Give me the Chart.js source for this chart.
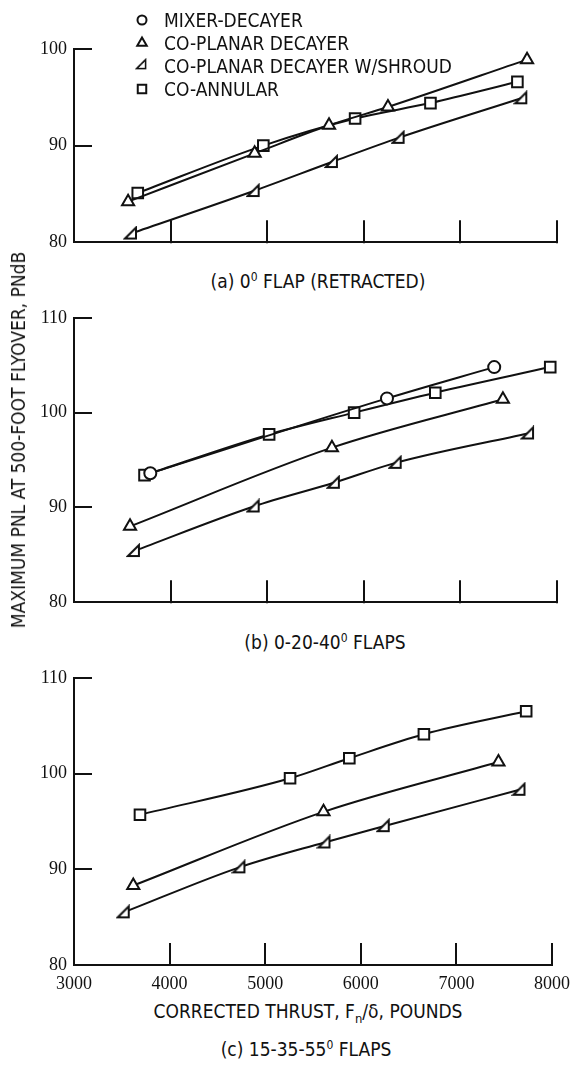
<!DOCTYPE html>
<html>
<head>
<meta charset="utf-8">
<script src="https://cdn.jsdelivr.net/npm/chart.js@4.4.0/dist/chart.umd.min.js"></script>
<style>
  html,body{margin:0;padding:0;background:#fff;}
  #page{position:relative;width:578px;height:1067px;overflow:hidden;background:#fff;}
  canvas{position:absolute;left:0;}
  .t{position:absolute;font-family:"DejaVu Sans Condensed","DejaVu Sans",sans-serif;font-size:19px;color:#111;white-space:nowrap;line-height:22px;}
  .c{transform:translateX(-50%);}
  sup{font-size:12px;vertical-align:0;position:relative;top:-7px;}
  sub{font-size:13px;vertical-align:0;position:relative;top:5px;}
</style>
</head>
<body>
<div id="page">
  <canvas id="ca" width="578" height="260" style="top:0px"></canvas>
  <canvas id="cb" width="578" height="320" style="top:300px"></canvas>
  <canvas id="cc" width="578" height="340" style="top:660px"></canvas>

  <div class="t" id="lg0" style="left:164px;top:9px">MIXER-DECAYER</div>
  <div class="t" id="lg1" style="left:164px;top:32px">CO-PLANAR DECAYER</div>
  <div class="t" id="lg2" style="left:164px;top:55px">CO-PLANAR DECAYER W/SHROUD</div>
  <div class="t" id="lg3" style="left:164px;top:78px">CO-ANNULAR</div>

  <div class="t c" style="left:318px;top:270px">(a) 0<sup>0</sup> FLAP (RETRACTED)</div>
  <div class="t c" style="left:325px;top:631px">(b) 0-20-40<sup>0</sup> FLAPS</div>
  <div class="t c" style="left:308px;top:1000px">CORRECTED THRUST, F<sub>n</sub>/δ, POUNDS</div>
  <div class="t c" style="left:306px;top:1038px">(c) 15-35-55<sup>0</sup> FLAPS</div>
  <div class="t" style="left:18px;top:440px;transform:translate(-50%,-50%) rotate(-90deg);">MAXIMUM PNL AT 500-FOOT FLYOVER, PNdB</div>
</div>
<script>
// ---------- DATA ----------
const seriesNames = ['MIXER-DECAYER','CO-PLANAR DECAYER','CO-PLANAR DECAYER W/SHROUD','CO-ANNULAR'];
const xTickValues = [3000,4000,5000,6000,7000,8000];
const yTicksA = [80,90,100];
const yTicksBC = [80,90,100,110];

// (a) 0 deg flap (retracted)
const aCoplanarX = [3560,4870,5640,6250,7690];
const aCoplanarY = [84.2,89.2,92.1,94.0,98.9];
const aShroudX   = [3590,4860,5670,6360,7630];
const aShroudY   = [80.9,85.3,88.3,90.8,94.9];
const aAnnularX  = [3660,4960,5910,6690,7590];
const aAnnularY  = [85.1,90.0,92.8,94.4,96.6];

// (b) 0-20-40 deg flaps
const bMixerX    = [3790,6240,7350];
const bMixerY    = [93.6,101.5,104.8];
const bAnnularX  = [3730,5020,5900,6740,7930];
const bAnnularY  = [93.4,97.7,100.0,102.1,104.8];
const bCoplanarX = [3580,5670,7440];
const bCoplanarY = [88.0,96.3,101.4];
const bShroudX   = [3620,4860,5690,6330,7700];
const bShroudY   = [85.4,90.1,92.6,94.7,97.8];

// (c) 15-35-55 deg flaps
const cAnnularX  = [3690,5260,5880,6660,7730];
const cAnnularY  = [95.7,99.5,101.6,104.1,106.5];
const cCoplanarX = [3620,5610,7440];
const cCoplanarY = [88.3,96.0,101.2];
const cShroudX   = [3520,4730,5620,6240,7660];
const cShroudY   = [85.5,90.2,92.8,94.5,98.3];

// ---------- marker for shroud (right triangle) ----------
function makeShroudMarker(){
  const c = document.createElement('canvas');
  c.width = 16; c.height = 16;
  const g = c.getContext('2d');
  g.lineWidth = 2; g.strokeStyle = '#111'; g.fillStyle = '#fff'; g.lineJoin='miter';
  g.beginPath();
  g.moveTo(2,13); g.lineTo(13,13); g.lineTo(13,2); g.closePath();
  g.fill(); g.stroke();
  return c;
}
const shroudMarker = makeShroudMarker();

const styleFor = {
  0:{pointStyle:'circle', radius:6},
  1:{pointStyle:'triangle', radius:7},
  2:{pointStyle:shroudMarker, radius:7},
  3:{pointStyle:'rect', radius:7.5}
};

function ds(idx, xs, ys){
  const s = styleFor[idx];
  return {
    label: seriesNames[idx],
    data: xs.map((x,i)=>({x:x, y:ys[i]})),
    borderColor:'#111', borderWidth:2,
    backgroundColor:'#fff',
    pointStyle:s.pointStyle, pointRadius:s.radius, pointBorderWidth:2,
    pointBackgroundColor:'#fff', pointBorderColor:'#111',
    cubicInterpolationMode:'monotone', fill:false
  };
}

// inner tick marks plugin
const innerTicks = {
  id:'innerTicks',
  afterDraw(chart){
    const ctx = chart.ctx, xs = chart.scales.x, ys = chart.scales.y, a = chart.chartArea;
    ctx.save();
    ctx.strokeStyle = '#111'; ctx.lineWidth = 2;
    ys.ticks.forEach(t=>{
      if (t.value === ys.min) return;
      const y = Math.round(ys.getPixelForValue(t.value));
      ctx.beginPath(); ctx.moveTo(a.left-1, y); ctx.lineTo(a.left+18, y); ctx.stroke();
    });
    xs.ticks.forEach(t=>{
      if (t.value === xs.min) return;
      const x = Math.round(xs.getPixelForValue(t.value));
      ctx.beginPath(); ctx.moveTo(x, a.bottom+1); ctx.lineTo(x, a.bottom-22); ctx.stroke();
    });
    ctx.restore();
  }
};

// legend symbols for panel (a)
const legendSymbols = {
  id:'legendSymbols',
  afterDraw(chart){
    if (chart.canvas.id !== 'ca') return;
    const ctx = chart.ctx;
    const rows = [20,43,66,89];
    ctx.save();
    rows.forEach((y,i)=>{
      const s = styleFor[i];
      if (typeof s.pointStyle === 'string'){
        ctx.strokeStyle='#111'; ctx.fillStyle='#fff'; ctx.lineWidth=2;
        const r = s.pointStyle==='rect' ? 6 : (s.pointStyle==='triangle' ? 5.5 : 4.5);
        Chart.helpers.drawPoint(ctx, {pointStyle:s.pointStyle, radius:r, rotation:0, borderWidth:2}, 142, y);
      } else {
        ctx.drawImage(s.pointStyle, 142-7, y-8, 13, 13);
      }
    });
    ctx.restore();
  }
};

function makeChart(id, datasets, yMax, yTicks, padTop, xHeight, showX){
  return new Chart(document.getElementById(id), {
    type:'line',
    data:{datasets:datasets},
    plugins:[innerTicks, legendSymbols],
    options:{
      responsive:false, animation:false, devicePixelRatio:1,
      layout:{padding:{top:padTop, right:21, left:0, bottom:0}},
      plugins:{legend:{display:false}, tooltip:{enabled:false}},
      scales:{
        x:{
          type:'linear', min:3000, max:8000,
          afterBuildTicks(scale){ scale.ticks = xTickValues.map(v=>({value:v})); },
          afterFit(scale){ scale.height = xHeight; },
          grid:{drawOnChartArea:false, drawTicks:false},
          border:{display:true, color:'#111', width:2},
          ticks:{display:showX, color:'#111', padding:8,
                 callback:(v)=>String(v),
                 font:{family:'"Liberation Serif","DejaVu Serif",serif', size:18}}
        },
        y:{
          type:'linear', min:80, max:yMax,
          afterBuildTicks(scale){ scale.ticks = yTicks.map(v=>({value:v})); },
          afterFit(scale){ scale.width = 74; },
          grid:{drawOnChartArea:false, drawTicks:false},
          border:{display:true, color:'#111', width:2},
          ticks:{color:'#111', padding:7,
                 callback:(v)=>String(v),
                 font:{family:'"Liberation Serif","DejaVu Serif",serif', size:18}}
        }
      }
    }
  });
}

makeChart('ca', [
  ds(1, aCoplanarX, aCoplanarY),
  ds(2, aShroudX, aShroudY),
  ds(3, aAnnularX, aAnnularY)
], 100, yTicksA, 49, 15, false);

makeChart('cb', [
  ds(0, bMixerX, bMixerY),
  ds(3, bAnnularX, bAnnularY),
  ds(1, bCoplanarX, bCoplanarY),
  ds(2, bShroudX, bShroudY)
], 110, yTicksBC, 16, 14, false);

makeChart('cc', [
  ds(3, cAnnularX, cAnnularY),
  ds(1, cCoplanarX, cCoplanarY),
  ds(2, cShroudX, cShroudY)
], 110, yTicksBC, 17, 35, true);
</script>
</body>
</html>
